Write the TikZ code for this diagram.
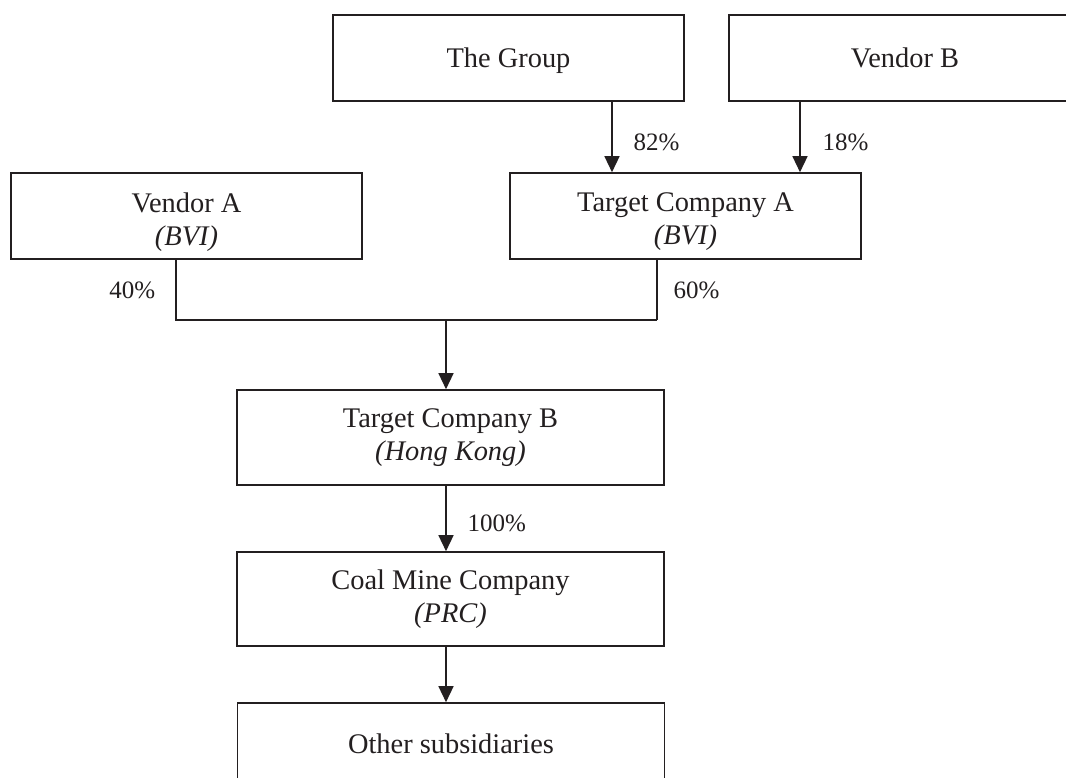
\documentclass[tikz,border=0pt]{standalone}
\usepackage{fontspec}
\setmainfont{Liberation Serif}
\usetikzlibrary{arrows.meta}
\definecolor{ink}{HTML}{231F20}
\begin{document}
\begin{tikzpicture}[x=1pt,y=-1pt,
  box/.style={draw=ink,line width=1.6pt,minimum width=351pt,minimum height=86pt,
    align=center,inner sep=0pt,text=ink,font=\fontsize{28.4}{33}\selectfont},
  wbox/.style={box,minimum width=427pt},
  boxtxt/.style={align=center,inner sep=0pt,text=ink,font=\fontsize{28.4}{33}\selectfont},
  conn/.style={draw=ink,line width=1.4pt},
  arr/.style={conn,-{Triangle[length=16pt,width=15pt]}},
  pct/.style={inner sep=0pt,text=ink,font=\fontsize{25}{30}\selectfont}]
\clip (0,0) rectangle (1066,778);
\fill[white] (0,0) rectangle (1066,778);
% boxes
\node[box,text depth=0pt] (group) at (508.5,58) {The Group};
\node[box,minimum width=352pt,text depth=0pt] (vendB) at (905,58) {Vendor B};
\node[box,label={[boxtxt,yshift=-6pt]center:{Vendor A\\\textit{(BVI)}}}] (vendA) at (186.5,216) {};
\node[box,label={[boxtxt,yshift=-6pt]center:{Target Company A\\\textit{(BVI)}}}] (tca) at (685.5,216) {};
\node[wbox,minimum height=95pt] (tcb) at (450.5,437.5) {Target Company B\\\textit{(Hong Kong)}};
\node[wbox,minimum height=94pt] (coal) at (450.5,599) {Coal Mine Company\\\textit{(PRC)}};
\node[wbox,minimum height=82pt] (other) at (451,744) {Other subsidiaries};
% helper coordinates
\coordinate (xg) at (612,0);
\coordinate (xb) at (800,0);
\coordinate (xa) at (176,0);
\coordinate (xt) at (657,0);
\coordinate (j) at (446,320);
% connectors
\draw[arr] (group.south -| xg) -- node[pct,right=21pt,yshift=-5pt]{82\%} (tca.north -| xg);
\draw[arr] (vendB.south -| xb) -- node[pct,right=22pt,yshift=-5pt]{18\%} (tca.north -| xb);
\draw[conn] (vendA.south -| xa) -- node[pct,left=20pt]{40\%} (j -| xa) -- (j -| xt);
\draw[conn] (tca.south -| xt) -- node[pct,right=16pt]{60\%} (j -| xt);
\draw[arr] (j) -- (tcb.north -| j);
\draw[arr] (tcb.south -| j) -- node[pct,right=21pt,yshift=-4.5pt]{100\%} (coal.north -| j);
\draw[arr] (coal.south -| j) -- (other.north -| j);
\end{tikzpicture}
\end{document}
